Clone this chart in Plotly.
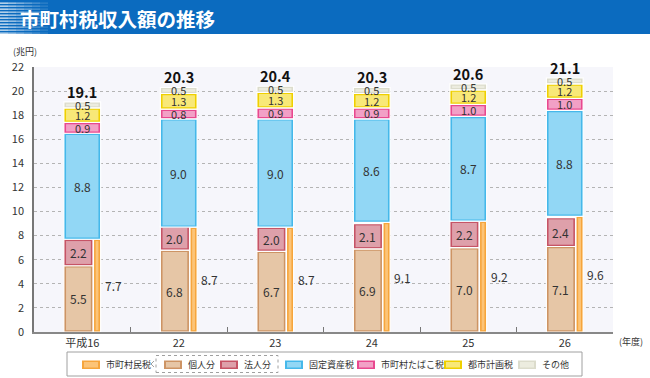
import plotly.graph_objects as go

# ---------------- data ----------------
categories = ["平成16", "22", "23", "24", "25", "26"]
kojin = [5.5, 6.8, 6.7, 6.9, 7.0, 7.1]          # 個人分
hojin = [2.2, 2.0, 2.0, 2.1, 2.2, 2.4]          # 法人分
shichoson = [7.7, 8.7, 8.7, 9.1, 9.2, 9.6]      # 市町村民税
kotei = [8.8, 9.0, 9.0, 8.6, 8.7, 8.8]          # 固定資産税
tabako = [0.9, 0.8, 0.9, 0.9, 1.0, 1.0]         # 市町村たばこ税
toshi = [1.2, 1.3, 1.3, 1.2, 1.2, 1.2]          # 都市計画税
sonota = [0.5, 0.5, 0.5, 0.5, 0.5, 0.5]         # その他
totals = [19.1, 20.3, 20.4, 20.3, 20.6, 21.1]
y_ticks = list(range(0, 23, 2))

# ---------------- layout geometry ----------------
W, H = 650, 378
L, R, T, B = 34, 613, 67, 332
CAT_PX = (R - L) / len(categories)
Y_PX = (B - T) / 22.0
FONT = "Noto Sans CJK JP"
TXT = "#333333"
idx = list(range(len(categories)))


def px_x(px):
    return (px - L) / (R - L)


def px_y(py):
    return (B - py) / (B - T)


fig = go.Figure()


def add_segment(vals, base, off_px, w_px, outer, inner):
    fig.add_trace(go.Bar(
        x=categories, y=vals, base=base,
        offset=off_px / CAT_PX, width=w_px / CAT_PX,
        marker=dict(color=outer, line=dict(color="white", width=1.2)),
        showlegend=False, hoverinfo="skip"))
    iv = 1.8 / Y_PX
    fig.add_trace(go.Bar(
        x=categories, y=[max(v - 2 * iv, 0) for v in vals],
        base=[b + iv for b in base],
        offset=(off_px + 2.2) / CAT_PX, width=(w_px - 4.4) / CAT_PX,
        marker=dict(color=inner, line=dict(width=0)),
        showlegend=False, hoverinfo="skip"))


zeros = [0] * len(categories)
b_hojin = list(kojin)
b_kotei = list(shichoson)
b_tabako = [a + b for a, b in zip(b_kotei, kotei)]
b_toshi = [a + b for a, b in zip(b_tabako, tabako)]
b_sonota = [a + b for a, b in zip(b_toshi, toshi)]

MAIN_OFF, MAIN_W = -18.4, 36.8
K_OFF, K_W = -18.4, 29.2
O_OFF, O_W = 11.2, 7.2

add_segment(kojin, zeros, K_OFF, K_W, "#cd9464", "#e6c6a6")
add_segment(hojin, b_hojin, K_OFF, K_W, "#c65466", "#dea0aa")
add_segment(shichoson, zeros, O_OFF, O_W, "#f6a53c", "#fcc478")
add_segment(kotei, b_kotei, MAIN_OFF, MAIN_W, "#45b8ea", "#92d7f5")
add_segment(tabako, b_tabako, MAIN_OFF, MAIN_W, "#e8488f", "#f2a0c6")
add_segment(toshi, b_toshi, MAIN_OFF, MAIN_W, "#efd000", "#f8e878")
add_segment(sonota, b_sonota, MAIN_OFF, MAIN_W, "#dcdccc", "#ececdf")

ann = []


def seg_labels(vals, base, xshift, size=12):
    for i, v, b in zip(idx, vals, base):
        ann.append(dict(x=i, y=b + v / 2, xref="x", yref="y", text=f"{v:.1f}",
                        showarrow=False, xshift=xshift,
                        font=dict(family=FONT, size=size, color=TXT)))


seg_labels(kojin, zeros, -4)
seg_labels(hojin, b_hojin, -4)
seg_labels(kotei, b_kotei, 0)
seg_labels(tabako, b_tabako, 0, 11)
seg_labels(toshi, b_toshi, 0, 11)
seg_labels(sonota, b_sonota, 0, 11)

for i, v in zip(idx, shichoson):
    ann.append(dict(x=i, y=v / 2, xref="x", yref="y", text=f"{v:.1f}",
                    showarrow=False, xshift=31,
                    font=dict(family=FONT, size=12, color=TXT)))

for i, v in zip(idx, totals):
    ann.append(dict(x=i, y=v, xref="x", yref="y", text=f"<b>{v:.1f}</b>",
                    showarrow=False, yanchor="bottom", yshift=-2,
                    font=dict(family=FONT, size=14.5, color="#111111")))

shapes = []
# title bar
shapes.append(dict(type="rect", xref="paper", yref="paper",
                   x0=px_x(0), x1=px_x(W), y0=px_y(34), y1=px_y(0),
                   fillcolor="#0b6bbf", line=dict(width=0), layer="below"))
for k in range(11):
    yy = 2.5 + k * 3
    for s in range(6):
        shapes.append(dict(type="rect", xref="paper", yref="paper",
                           x0=px_x(s * 8), x1=px_x(s * 8 + 8),
                           y0=px_y(yy + 1.3), y1=px_y(yy),
                           fillcolor="white", opacity=0.85 - s * 0.14,
                           line=dict(width=0), layer="below"))
ann.append(dict(x=px_x(18), y=px_y(18), xref="paper", yref="paper",
                text="<b>市町村税収入額の推移</b>", showarrow=False,
                xanchor="left", yanchor="middle",
                font=dict(family=FONT, size=19.5, color="white")))

# unit labels
ann.append(dict(x=px_x(11), y=px_y(51), xref="paper", yref="paper", text="(兆円)",
                showarrow=False, xanchor="left", yanchor="middle",
                font=dict(family=FONT, size=9, color=TXT)))
ann.append(dict(x=px_x(617), y=px_y(341), xref="paper", yref="paper", text="(年度)",
                showarrow=False, xanchor="left", yanchor="middle",
                font=dict(family=FONT, size=9, color=TXT)))

# legend
shapes.append(dict(type="rect", xref="paper", yref="paper",
                   x0=px_x(67), x1=px_x(582), y0=px_y(376), y1=px_y(352),
                   fillcolor="white", line=dict(color="#a0a0a0", width=1)))
shapes.append(dict(type="rect", xref="paper", yref="paper",
                   x0=px_x(156), x1=px_x(278), y0=px_y(372.5), y1=px_y(355.5),
                   line=dict(color="#a0a0a0", width=1, dash="dot")))
shapes.append(dict(type="path", xref="paper", yref="paper",
                   path=f"M {px_x(154)} {px_y(361)} L {px_x(151)} {px_y(364)} L {px_x(154)} {px_y(367)}",
                   line=dict(color="#a0a0a0", width=1)))
legend_items = [
    ("市町村民税", 82, "#f6a53c", "#fcc478"),
    ("個人分", 164, "#cd9464", "#e6c6a6"),
    ("法人分", 220, "#c65466", "#dea0aa"),
    ("固定資産税", 285, "#45b8ea", "#92d7f5"),
    ("市町村たばこ税", 357, "#e8488f", "#f2a0c6"),
    ("都市計画税", 444, "#efd000", "#f8e878"),
    ("その他", 518, "#dcdccc", "#ececdf"),
]
for name, sx, oc, ic in legend_items:
    shapes.append(dict(type="rect", xref="paper", yref="paper",
                       x0=px_x(sx), x1=px_x(sx + 18), y0=px_y(369), y1=px_y(360.5),
                       fillcolor=oc, line=dict(width=0)))
    shapes.append(dict(type="rect", xref="paper", yref="paper",
                       x0=px_x(sx + 2), x1=px_x(sx + 16), y0=px_y(367.5), y1=px_y(362),
                       fillcolor=ic, line=dict(width=0)))
    ann.append(dict(x=px_x(sx + 22), y=px_y(364.5), xref="paper", yref="paper",
                    text=name, showarrow=False, xanchor="left", yanchor="middle",
                    font=dict(family=FONT, size=9, color=TXT)))

fig.update_layout(
    width=W, height=H,
    margin=dict(l=L, r=W - R, t=T, b=H - B, pad=0),
    barmode="overlay",
    paper_bgcolor="white",
    plot_bgcolor="#f6f6fb",
    showlegend=False,
    annotations=ann,
    shapes=shapes,
    font=dict(family=FONT, color=TXT),
    xaxis=dict(type="category", categoryorder="array", categoryarray=categories,
               range=[-0.5, len(categories) - 0.5],
               showline=True, linecolor="#888888", linewidth=1.5,
               ticks="inside", tickson="boundaries", ticklen=5,
               tickcolor="#777777", tickwidth=1,
               showgrid=False, tickfont=dict(size=11, color=TXT, family=FONT)),
    yaxis=dict(range=[0, 22], tickvals=y_ticks, showline=True,
               linecolor="#777777", linewidth=1.5,
               showgrid=True, gridcolor="#b4b4b4", griddash="dot", gridwidth=1,
               zeroline=False, ticks="", ticklabelstandoff=6,
               tickfont=dict(size=11, color=TXT, family=FONT)),
)

fig.write_html("out.html", config={"displayModeBar": False},
               post_script="document.body.style.margin='0';document.body.style.overflow='hidden';")
